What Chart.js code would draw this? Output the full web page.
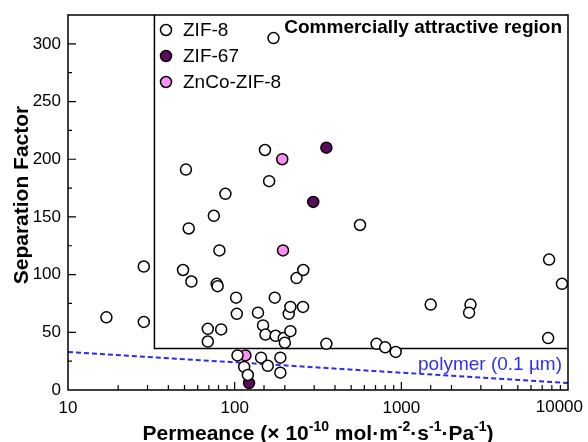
<!DOCTYPE html>
<html>
<head>
<meta charset="utf-8">
<script src="https://cdn.jsdelivr.net/npm/chart.js@4.4.1/dist/chart.umd.min.js"></script>
<style>
  body { margin: 0; background: #fff; }
  #wrap { width: 588px; height: 442px; }
</style>
</head>
<body>
<div id="wrap"><canvas id="chart" width="588" height="442"></canvas></div>
<script>
// values
const zif8Perm = [17, 28.5, 28.5, 49, 51, 53, 55, 69, 69, 75, 78, 79, 81, 83, 88, 102, 103, 104, 114, 120,
  138, 144, 148, 152, 153, 158, 161, 171, 174, 176, 188, 188, 197, 200, 211, 216, 216, 235, 257, 258,
  355, 565, 710, 800, 925, 1500, 2600, 2550, 7600, 7700, 9200];
const zif8Sep = [63, 107, 59, 104, 191, 140, 94, 53, 42, 151, 92, 90, 121, 52.5, 170, 80, 66, 30, 20, 13,
  67, 28, 56, 208, 48, 21, 181, 305, 80, 47, 28, 15, 45, 41, 66, 72, 51, 97, 72, 104,
  40, 143, 40, 37, 33, 74, 74, 67, 45, 113, 92];
const zif67Perm = [122, 296, 355];
const zif67Sep = [6, 163, 210];
const znCoPerm = [116, 193, 195];
const znCoSep = [30, 200, 121];

// commercially attractive region outline and polymer upper bound
const regionPerm = [33, 33, 10000];
const regionSep = [325, 36, 36];
const polymerPerm = [10, 10000];
const polymerSep = [33, 6];

const xTickValues = [10, 100, 1000, 10000];
const yTickValues = [0, 50, 100, 150, 200, 250, 300];

const FONT = "'Liberation Sans', Arial, sans-serif";

function pts(xs, ys) {
  return xs.map((x, i) => ({ x: x, y: ys[i] }));
}

const series = [
  { label: 'ZIF-8', data: pts(zif8Perm, zif8Sep), fill: '#ffffff' },
  { label: 'ZIF-67', data: pts(zif67Perm, zif67Sep), fill: '#5e0a5e' },
  { label: 'ZnCo-ZIF-8', data: pts(znCoPerm, znCoSep), fill: '#fa8ff6' }
];

const decorPlugin = {
  id: 'decor',
  afterDraw(chart) {
    const ctx = chart.ctx;
    const a = chart.chartArea;
    const xs = chart.scales.x, ys = chart.scales.y;
    ctx.save();
    // frame
    ctx.strokeStyle = '#000';
    ctx.lineWidth = 1.5;
    ctx.strokeRect(a.left, a.top, a.right - a.left, a.bottom - a.top);

    // inward ticks
    ctx.lineWidth = 1.2;
    ctx.beginPath();
    ys.ticks.forEach(t => {
      if (t.value <= 0 || t.value >= 325) return;
      const y = ys.getPixelForValue(t.value);
      const len = t.value % 50 === 0 ? 8 : 4;
      ctx.moveTo(a.left, y);
      ctx.lineTo(a.left + len, y);
    });
    xs.ticks.forEach(t => {
      if (t.value <= 10 || t.value >= 10000) return;
      const x = xs.getPixelForValue(t.value);
      const major = xTickValues.includes(t.value);
      const len = major ? 8 : 5;
      ctx.moveTo(x, a.bottom);
      ctx.lineTo(x, a.bottom - len);
    });
    ctx.stroke();

    // last x tick label, kept inside the canvas
    ctx.fillStyle = '#000';
    ctx.font = '17px ' + FONT;
    ctx.textAlign = 'right';
    ctx.textBaseline = 'top';
    ctx.fillText(String(xTickValues[xTickValues.length - 1]), 583, a.bottom + 9);

    // region label
    ctx.font = 'bold 19px ' + FONT;
    ctx.textBaseline = 'alphabetic';
    ctx.fillText('Commercially attractive region', a.right - 6, 33);

    // polymer label
    ctx.fillStyle = '#3030f0';
    ctx.font = '19px ' + FONT;
    ctx.fillText('polymer (0.1 \u00b5m)', a.right - 6, 370);

    // legend
    ctx.textAlign = 'left';
    ctx.textBaseline = 'middle';
    series.forEach((s, i) => {
      const y = 30 + i * 26;
      ctx.beginPath();
      ctx.arc(166, y, 5.5, 0, Math.PI * 2);
      ctx.fillStyle = s.fill;
      ctx.fill();
      ctx.lineWidth = 1.5;
      ctx.strokeStyle = '#000';
      ctx.stroke();
      ctx.fillStyle = '#000';
      ctx.font = '19px ' + FONT;
      ctx.fillText(s.label, 183, y + 1);
    });

    // y title
    ctx.save();
    ctx.translate(28, 195);
    ctx.rotate(-Math.PI / 2);
    ctx.textAlign = 'center';
    ctx.textBaseline = 'alphabetic';
    ctx.font = 'bold 21px ' + FONT;
    ctx.fillStyle = '#000';
    ctx.fillText('Separation Factor', 0, 0);
    ctx.restore();

    // x title with superscripts
    const runs = [
      ['Permeance (\u00d7 10', false], ['-10', true], [' mol\u00b7m', false], ['-2', true],
      ['\u00b7s', false], ['-1', true], ['\u00b7Pa', false], ['-1', true], [')', false]
    ];
    const big = 'bold 21px ' + FONT, small = 'bold 14px ' + FONT;
    let total = 0;
    runs.forEach(r => { ctx.font = r[1] ? small : big; total += ctx.measureText(r[0]).width; });
    let x = (a.left + a.right) / 2 - total / 2;
    ctx.textAlign = 'left';
    ctx.textBaseline = 'alphabetic';
    ctx.fillStyle = '#000';
    runs.forEach(r => {
      ctx.font = r[1] ? small : big;
      ctx.fillText(r[0], x, r[1] ? 431 : 440);
      x += ctx.measureText(r[0]).width;
    });
    ctx.restore();
  }
};

const datasets = series.map(s => ({
  type: 'scatter',
  label: s.label,
  data: s.data,
  backgroundColor: s.fill,
  borderColor: '#000',
  borderWidth: 1.5,
  pointRadius: 5.5,
  pointHoverRadius: 5.5,
  order: 1
}));

datasets.push({
  type: 'line',
  label: 'region',
  data: pts(regionPerm, regionSep),
  borderColor: '#000',
  borderWidth: 1.5,
  pointRadius: 0,
  fill: false,
  order: 5
});
datasets.push({
  type: 'line',
  label: 'polymer',
  data: pts(polymerPerm, polymerSep),
  borderColor: '#2b2bf0',
  borderWidth: 2,
  borderDash: [5, 3],
  pointRadius: 0,
  fill: false,
  order: 6
});

new Chart(document.getElementById('chart').getContext('2d'), {
  data: { datasets: datasets },
  options: {
    responsive: false,
    animation: false,
    layout: { padding: { top: 15, right: 20, left: 0, bottom: 0 } },
    plugins: { legend: { display: false }, tooltip: { enabled: false } },
    scales: {
      x: {
        type: 'logarithmic',
        min: 10,
        max: 10000,
        grid: { display: false, drawTicks: false },
        border: { display: false },
        ticks: {
          autoSkip: false,
          maxRotation: 0,
          padding: 8,
          color: '#000',
          font: { size: 17, family: FONT },
          // 10000 is drawn by the plugin so it stays inside the canvas
          callback: v => (xTickValues.includes(v) && v !== 10000) ? String(v) : ''
        },
        afterFit: s => { s.height = 52; s.paddingLeft = 0; s.paddingRight = 0; }
      },
      y: {
        min: 0,
        max: 325,
        grid: { display: false, drawTicks: false },
        border: { display: false },
        ticks: {
          stepSize: 25,
          autoSkip: false,
          padding: 7,
          color: '#000',
          font: { size: 17, family: FONT },
          callback: v => yTickValues.includes(v) ? String(v) : ''
        },
        afterFit: s => { s.width = 68; s.paddingTop = 0; s.paddingBottom = 0; }
      }
    }
  },
  plugins: [decorPlugin]
});
</script>
</body>
</html>
